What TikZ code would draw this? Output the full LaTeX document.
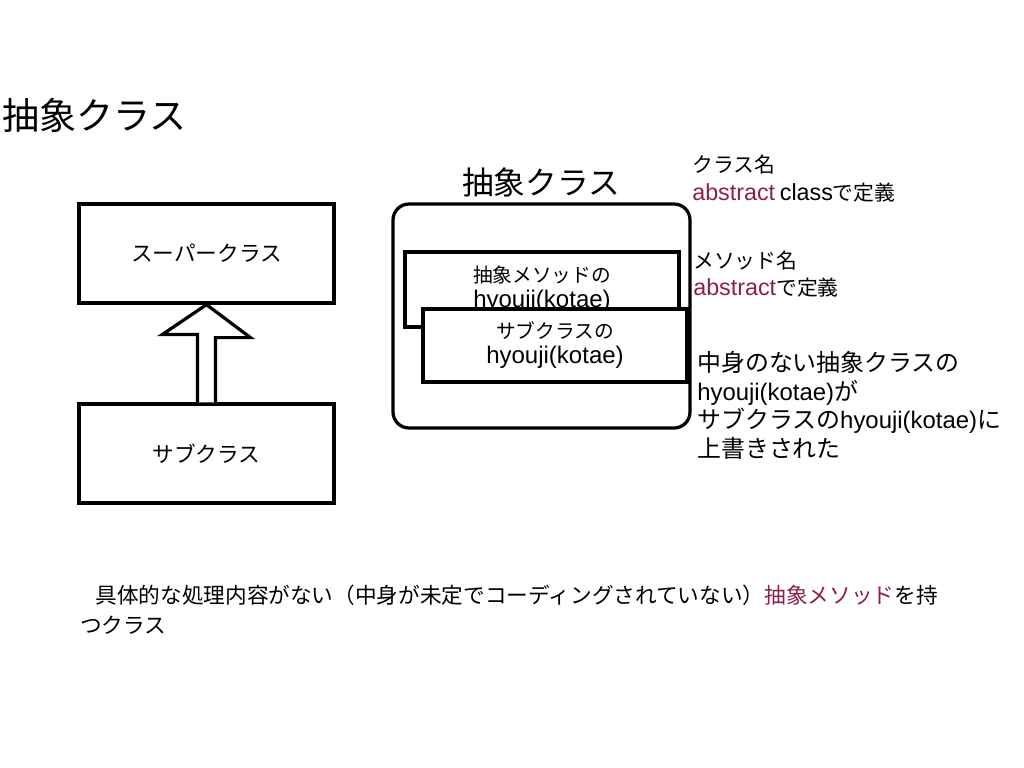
\documentclass[tikz,border=0pt]{standalone}
\usepackage{fontspec}
\setmainfont{Noto Sans CJK JP}
\newfontfamily\lat{Liberation Sans}
\newfontfamily\latmid[Scale=1.12]{Liberation Sans}
\newfontfamily\latbig[Scale=1.22]{Liberation Sans}
\usetikzlibrary{positioning,calc}
\definecolor{abstractred}{RGB}{140,30,80}
\newcommand{\en}[1]{{\lat #1}}
\newcommand{\enmid}[1]{{\latmid #1}}
\newcommand{\enbig}[1]{{\latbig #1}}

\begin{document}
\begin{tikzpicture}[x=0.025cm, y=-0.025cm,
        classbox/.style={rectangle, draw, line width=2.3pt, minimum width=255*0.025cm, minimum height=99*0.025cm, font=\fontsize{15.4}{20}\selectfont},
        methodbox/.style={rectangle, draw, line width=2.3pt, fill=white, align=center, inner sep=0pt, font=\fontsize{14}{17.8}\selectfont},
        note/.style={anchor=north west, align=left, inner sep=0pt},
        hollow/.style={line width=2.3pt, fill=white, line join=miter}
    ]
        \useasboundingbox (0,0) rectangle (1024,768);

        % Titles
        \node[anchor=west, inner sep=0pt, font=\fontsize{26.3}{30}\selectfont] (title) at (2,115) {抽象クラス};
        \node[inner sep=0pt, font=\fontsize{22.5}{26}\selectfont] (abstitle) at (541,182) {抽象クラス};

        % Inheritance
        \node[classbox] (super) at (206.5,253.5) {スーパークラス};
        \node[classbox] (sub) at (206.5,453.5) {サブクラス};
        \draw[hollow] ([xshift=-9*0.025cm]sub.north) -- ++(0,-68) -- ++(-35,0) -- (super.south)
            -- ++(44,33) -- ++(-35,0) -- ([xshift=9*0.025cm]sub.north);

        % Abstract class box
        \node[draw, line width=2.3pt, rounded corners=0.4cm, minimum width=297*0.025cm, minimum height=224*0.025cm] (absclass) at (541.5,316) {};
        \node[methodbox, minimum width=274*0.025cm, minimum height=75*0.025cm] (absmethod) at (542,289.5) {抽象メソッドの\\\enbig{hyouji(kotae)}};
        \node[methodbox, minimum width=264*0.025cm, minimum height=73*0.025cm] (submethod) at (555,345.5) {サブクラスの\\\enbig{hyouji(kotae)}};

        % Notes
        \node[note, font=\fontsize{14.8}{19.9}\selectfont] (classnote) at (692,155) {クラス名\\\textcolor{abstractred}{\enmid{abstract}} \enmid{class}で定義};
        \node[note, font=\fontsize{14.8}{19.2}\selectfont] (methodnote) at (693,251) {メソッド名\\\textcolor{abstractred}{\enmid{abstract}}で定義};
        \node[note, font=\fontsize{17}{20.4}\selectfont] (overnote) at (697,351) {中身のない抽象クラスの\\\en{hyouji(kotae)}が\\サブクラスの\en{hyouji(kotae)}に\\上書きされた};

        % Definition
        \node[note, font=\fontsize{15.4}{21.3}\selectfont] (definition) at (80,585) {\hspace*{0.7em}具体的な処理内容がない（中身が未定でコーディングされていない）\textcolor{abstractred}{抽象メソッド}を持\\つクラス};

    \end{tikzpicture}
\end{document}
